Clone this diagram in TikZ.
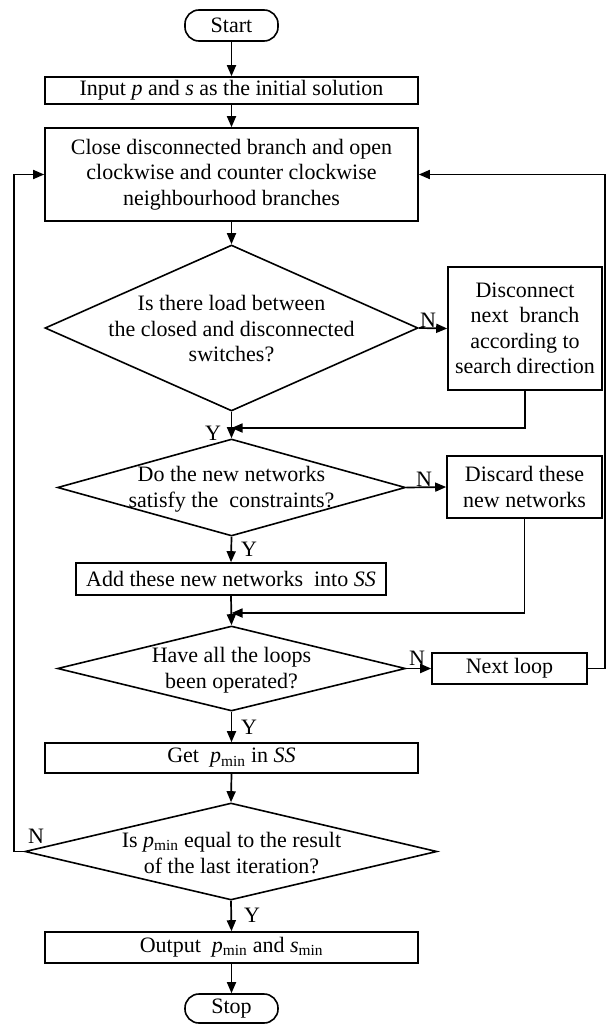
\documentclass[tikz,border=0pt]{standalone}
\usepackage{fontspec}
\setmainfont{Liberation Serif}
\usetikzlibrary{arrows.meta,shapes.geometric}
\newcommand{\mysub}[1]{\textsubscript{#1}}
\tikzset{
  box/.style={draw,line width=1.6pt,minimum width=#1,inner sep=0pt,align=center},
  term/.style={draw,line width=1.6pt,rounded corners=14pt,minimum width=93pt,inner sep=0pt},
  dia/.style={draw,diamond,line width=1.6pt,inner sep=0pt},
  txt/.style={align=center,inner sep=0pt},
  lbl/.style={inner sep=0pt},
  conn/.style={line width=1.7pt,-{Triangle[length=11pt,width=9pt]}},
  every node/.style={font=\fontsize{22}{25.5}\selectfont}
}
\begin{document}
\begin{tikzpicture}[x=1pt,y=-1pt]
\useasboundingbox (0,0) rectangle (609,1024);
\node[term,minimum height=31pt] (start) at (231.5,25.5) {Start};
\node[box=373pt,minimum height=27pt] (input) at (231.5,90.5) {Input \textit{p} and \textit{s} as the initial solution};
\node[box=373pt,minimum height=93pt] (close) at (231.5,174.5) {Close disconnected branch and open\\clockwise and counter clockwise\\neighbourhood branches};
\node[dia,minimum width=373pt,minimum height=166pt] (d1) at (231.5,328) {};
\node[txt] (d1t) at (231.5,329) {Is there load between\\the closed and disconnected\\switches?};
\node[box=154pt,minimum height=123pt] (disc) at (525,328.5) {Disconnect\\next\ \ branch\\according to\\search direction};
\node[dia,minimum width=348pt,minimum height=97pt] (d2) at (231.5,487.5) {};
\node[txt] (d2t) at (231.5,489) {Do the new networks\\satisfy the\ \ constraints?};
\node[box=155pt,minimum height=62pt] (discard) at (524.5,487) {Discard these\\new networks};
\node[box=310pt,minimum height=32pt] (add) at (231,579) {Add these new networks\ \ into \textit{SS}};
\node[dia,minimum width=348pt,minimum height=85pt] (d3) at (231.5,668.5) {};
\node[txt] (d3t) at (231.5,670) {Have all the loops\\been operated?};
\node[box=155pt,minimum height=31pt] (next) at (509.5,668.5) {Next loop};
\node[box=373pt,minimum height=30pt] (get) at (231.5,758) {Get\ \ \textit{p}\mysub{min} in \textit{SS}};
\node[dia,minimum width=412pt,minimum height=97pt] (d4) at (231,851.5) {};
\node[txt] (d4t) at (231.5,853) {Is \textit{p}\mysub{min} equal to the result\\of the last iteration?};
\node[box=373pt,minimum height=31pt] (out) at (231.5,947.5) {Output\ \ \textit{p}\mysub{min} and \textit{s}\mysub{min}};
\node[term,minimum height=29pt] (stop) at (231.5,1008.5) {Stop};
\coordinate (m1) at (231.5,428);
\coordinate (m2) at (231.5,613);
\coordinate (rr) at (605,668.5);
\coordinate (ll) at (14,851.5);
% connectors
\draw[conn] (start) -- (input);
\draw[conn] (input) -- (close);
\draw[conn] (close) -- (d1.north);
\draw[conn] (d1.east) -- (disc.west);
\draw[conn] (disc.south) |- (m1);
\draw[conn] (d1.south) -- (d2.north);
\draw[conn] (d2.east) -- (discard.west);
\draw[conn] (d2.south) -- (add.north);
\draw[conn] (discard.south) |- (m2);
\draw[conn] (add.south) -- (d3.north);
\draw[conn] (d3.east) -- (next.west);
\draw[conn] (next.east) -- (rr) |- (close.east);
\draw[conn] (d3.south) -- (get.north);
\draw[conn] (get.south) -- (d4.north);
\draw[conn] (d4.west) -- (ll) |- (close.west);
\draw[conn] (d4.south) -- (out.north);
\draw[conn] (out) -- (stop);
% labels
\node[lbl] (n1) at (428,320) {N};
\node[lbl] (y1) at (213,433) {Y};
\node[lbl] (n2) at (424,479) {N};
\node[lbl] (y2) at (249,549) {Y};
\node[lbl] (n3) at (417,658) {N};
\node[lbl] (y3) at (249,727) {Y};
\node[lbl] (n4) at (36,836) {N};
\node[lbl] (y4) at (252,915) {Y};
\end{tikzpicture}
\end{document}
